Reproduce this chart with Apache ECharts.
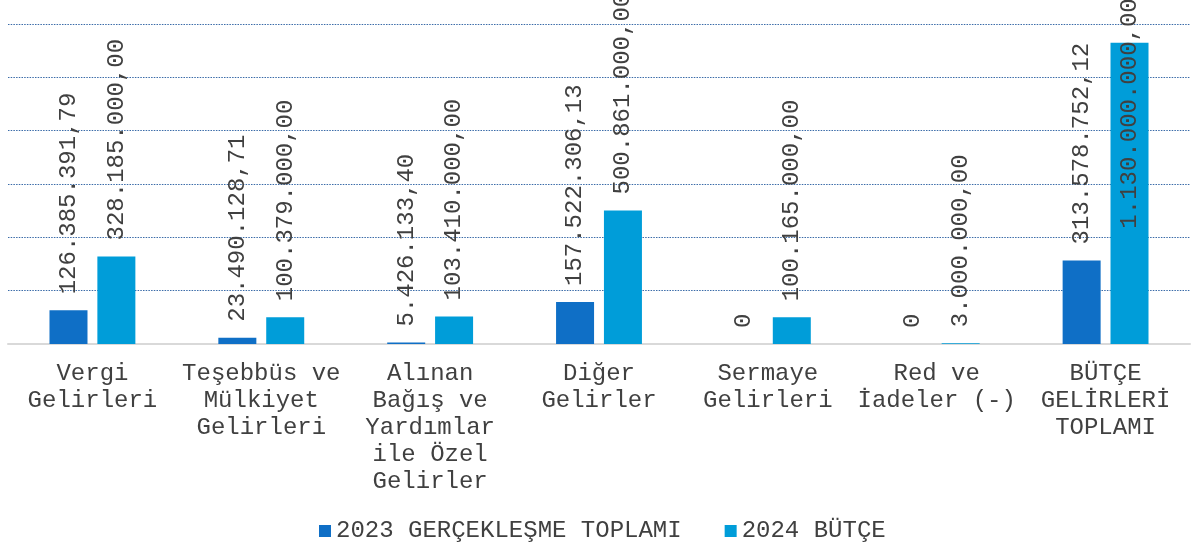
<!DOCTYPE html>
<html>
<head>
<meta charset="utf-8">
<script src="https://cdn.jsdelivr.net/npm/echarts@6/dist/echarts.min.js"></script>
<style>
  html, body { margin: 0; padding: 0; background: #fff; }
  #chart { width: 1193px; height: 549px; }
</style>
</head>
<body>
<div id="chart"></div>
<script>
// kategoriler (eksen etiketleri, satır kırılımları ile)
const categories = [
  'Vergi\nGelirleri',
  'Teşebbüs ve\nMülkiyet\nGelirleri',
  'Alınan\nBağış ve\nYardımlar\nile Özel\nGelirler',
  'Diğer\nGelirler',
  'Sermaye\nGelirleri',
  'Red ve\nİadeler (-)',
  'BÜTÇE\nGELİRLERİ\nTOPLAMI'
];

const seriesNames = ['2023 GERÇEKLEŞME TOPLAMI', '2024 BÜTÇE'];

const actual2023 = [126385391.79, 23490128.71, 5426133.40, 157522306.13, 0, 0, 313578752.12];
const budget2024 = [328185000.00, 100379000.00, 103410000.00, 500861000.00, 100165000.00, 3000000.00, 1130000000.00];

const FONT = "'Liberation Mono', 'Courier New', monospace";
const TEXT = '#404040';

// 1234567.8 -> "1.234.567,80", 0 -> "0"
function trFormat (v) {
  if (v === 0) return '0';
  const parts = v.toFixed(2).split('.');
  const intPart = parts[0].replace(/\B(?=(\d{3})+(?!\d))/g, '.');
  return intPart + ',' + parts[1];
}

const labelBase = {
  show: true,
  position: 'top',
  rotate: 90,
  align: 'left',
  verticalAlign: 'middle',
  distance: 16,
  fontFamily: FONT,
  fontSize: 24,
  color: TEXT,
  formatter: function (p) { return trFormat(p.value); }
};

// en büyük çubukta etiket çubuğun içine taşıyor
const budgetData = budget2024.map(function (v, i) {
  if (i === budget2024.length - 1) {
    return { value: v, label: { distance: -186 } };
  }
  return v;
});

const chart = echarts.init(document.getElementById('chart'));

chart.setOption({
  animation: false,
  color: ['#0F6FC6', '#009DD9'],
  grid: {
    left: 8,
    right: 3,
    top: 24,
    bottom: 205
  },
  legend: {
    bottom: 1,
    left: 314,
    itemWidth: 12,
    itemHeight: 12,
    itemGap: 43,
    icon: 'rect',
    textStyle: {
      fontFamily: FONT,
      fontSize: 24,
      color: TEXT
    },
    data: seriesNames
  },
  xAxis: {
    type: 'category',
    data: categories,
    axisLine: { lineStyle: { color: '#D9D9D9', width: 2 } },
    axisTick: { show: false },
    axisLabel: {
      interval: 0,
      margin: 16,
      fontFamily: FONT,
      fontSize: 24,
      lineHeight: 27,
      color: TEXT,
      align: 'center'
    }
  },
  yAxis: {
    type: 'value',
    min: 0,
    max: 1200000000,
    interval: 200000000,
    axisLabel: { show: false },
    axisLine: { show: false },
    axisTick: { show: false },
    splitLine: {
      lineStyle: { color: '#3A6BA8', type: [1.5, 1.2], width: 1 }
    }
  },
  series: [
    {
      name: seriesNames[0],
      type: 'bar',
      barWidth: 38,
      barGap: '26%',
      data: actual2023,
      label: labelBase
    },
    {
      name: seriesNames[1],
      type: 'bar',
      barWidth: 38,
      data: budgetData,
      label: labelBase
    }
  ]
});
</script>
</body>
</html>
